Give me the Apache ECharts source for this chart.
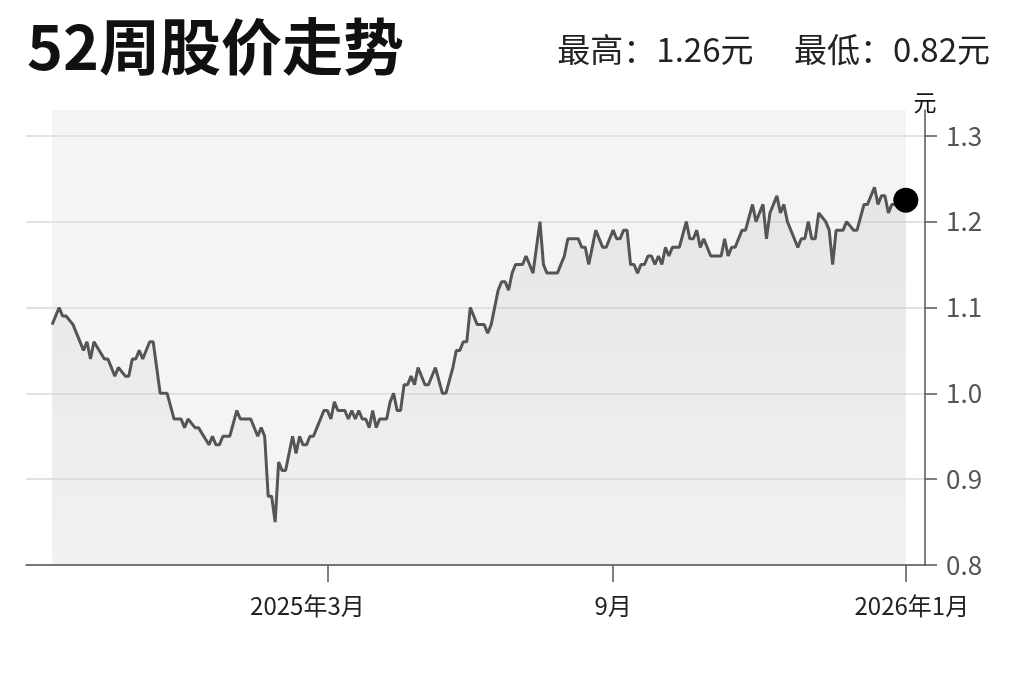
<!DOCTYPE html>
<html>
<head>
<meta charset="utf-8">
<style>
html,body{margin:0;padding:0;background:#fff;}
#chart{width:1023px;height:682px;}
</style>
<script src="https://cdn.jsdelivr.net/npm/echarts@6/dist/echarts.min.js"></script>
</head>
<body>
<div id="chart"></div>
<script>
// trading-day index (0 = first day of the 52-week window) and closing price (元)
const tradingDay = [0,2,3,4,6,9,10,11,12,15,16,18,19,21,22,23,24,25,26,28,29,31,33,35,37,38,39,41,42,
  45,46,47,48,49,51,53,54,57,59,60,61,62,63,64,65,66,67,69,70,71,72,73,74,75,76,78,79,80,81,82,84,85,86,
  87,88,89,90,91,92,93,94,96,97,98,99,100,101,102,103,104,105,107,108,110,112,113,115,116,117,118,119,120,122,124,125,126,
  128,129,130,131,132,133,135,136,137,138,139,140,141,142,145,147,148,151,152,153,154,155,156,158,159,160,161,162,163,164,165,
  166,167,168,169,170,171,172,173,174,175,176,177,178,180,182,183,184,185,186,187,189,192,193,194,195,196,198,199,
  201,202,204,205,206,208,209,210,211,213,214,215,216,217,218,219,220,222,223,224,225,226,227,228,230,231,
  233,234,236,237,238,239,240,241,242,245];
const closePrice = [1.08,1.10,1.09,1.09,1.08,1.05,1.06,1.04,1.06,1.04,1.04,1.02,1.03,1.02,1.02,1.04,1.04,1.05,1.04,1.06,1.06,1.00,1.00,0.97,0.97,0.96,0.97,0.96,0.96,
  0.94,0.95,0.94,0.94,0.95,0.95,0.98,0.97,0.97,0.95,0.96,0.95,0.88,0.88,0.85,0.92,0.91,0.91,0.95,0.93,0.95,0.94,0.94,0.95,0.95,0.96,0.98,0.98,0.97,0.99,0.98,0.98,0.97,0.98,
  0.97,0.98,0.97,0.97,0.96,0.98,0.96,0.97,0.97,0.99,1.00,0.98,0.98,1.01,1.01,1.02,1.01,1.03,1.01,1.01,1.03,1.00,1.00,1.03,1.05,1.05,1.06,1.06,1.10,1.08,1.08,1.07,1.08,
  1.12,1.13,1.13,1.12,1.14,1.15,1.15,1.16,1.15,1.14,1.17,1.20,1.15,1.14,1.14,1.16,1.18,1.18,1.17,1.17,1.15,1.17,1.19,1.17,1.17,1.18,1.19,1.18,1.18,1.19,1.19,
  1.15,1.15,1.14,1.15,1.15,1.16,1.16,1.15,1.16,1.15,1.17,1.16,1.17,1.17,1.20,1.18,1.18,1.19,1.17,1.18,1.16,1.16,1.18,1.16,1.17,1.17,1.19,1.19,
  1.22,1.20,1.22,1.18,1.21,1.23,1.21,1.22,1.20,1.18,1.17,1.18,1.18,1.20,1.18,1.18,1.21,1.20,1.19,1.15,1.19,1.19,1.19,1.20,1.19,1.19,
  1.22,1.22,1.24,1.22,1.23,1.23,1.21,1.22,1.22,1.225];
const tickDays = [79, 161, 245];
const tickLabels = ['2025年3月', '9月', '2026年1月'];
const yTicks = [0.8, 0.9, 1.0, 1.1, 1.2, 1.3];
const titleText = '52周股价走势';
const statText = '最高：1.26元　 最低：0.82元';

const FONT = '"Noto Sans CJK SC", "Noto Sans", sans-serif';
const seriesData = tradingDay.map((d, i) => [d, closePrice[i]]);
const lastPoint = seriesData[seriesData.length - 1];
const yMin = 0.8, yMax = 1.33;

const chart = echarts.init(document.getElementById('chart'), null, {renderer: 'canvas'});
chart.setOption({
  animation: false,
  backgroundColor: '#ffffff',
  title: [
    {text: titleText, left: 22, top: 11,
     textStyle: {fontFamily: FONT, fontSize: 61, fontWeight: 'bold', color: '#111'}},
    {text: statText, right: 28, top: 28,
     textStyle: {fontFamily: FONT, fontSize: 33, fontWeight: 'normal', color: '#222'}}
  ],
  grid: {left: 26, right: 98, top: 110, bottom: 117, containLabel: false},
  xAxis: {
    type: 'value', min: -7.5, max: 250.5, z: 1.5,
    axisLine: {show: true, onZero: false, lineStyle: {color: '#555', width: 1.5}},
    axisTick: {show: true, customValues: tickDays, length: 17, lineStyle: {color: '#555', width: 1.5}},
    axisLabel: {
      show: true, customValues: tickDays, margin: 29,
      fontFamily: FONT, fontSize: 24, color: '#222',
      formatter: function (v) {
        const i = tickDays.indexOf(v);
        const t = i >= 0 ? tickLabels[i] : '';
        if (i === 0) return '{l|' + t + '}';
        if (i === 2) return '{r|' + t + '}';
        return t;
      },
      rich: {
        l: {fontFamily: FONT, fontSize: 24, color: '#222', padding: [0, 40, 0, 0]},
        r: {fontFamily: FONT, fontSize: 24, color: '#222', padding: [0, 0, 0, 12]}
      }
    },
    splitLine: {show: false}
  },
  yAxis: {
    type: 'value', position: 'right', min: yMin, max: yMax, interval: 0.1, z: 1.5,
    name: '元', nameLocation: 'end', nameGap: 8,
    nameTextStyle: {fontFamily: FONT, fontSize: 23, color: '#111', align: 'center', verticalAlign: 'middle'},
    axisLine: {show: true, onZero: false, lineStyle: {color: '#555', width: 1.5}},
    axisTick: {show: true, inside: false, customValues: yTicks, length: 12, lineStyle: {color: '#555', width: 1.5}},
    axisLabel: {show: true, customValues: yTicks, margin: 21, fontFamily: FONT, fontSize: 26, color: '#555',
      formatter: v => v.toFixed(1)},
    splitLine: {show: true, lineStyle: {color: ['#e2e2e2','#e2e2e2','#e2e2e2','#e2e2e2','#e2e2e2','#e2e2e2','rgba(0,0,0,0)'], width: 2}}
  },
  series: [
    {
      type: 'line', data: seriesData, showSymbol: false, symbol: 'none',
      lineStyle: {color: '#555', width: 3},
      areaStyle: {
        color: new echarts.graphic.LinearGradient(0, 0, 0, 1, [
          {offset: 0, color: 'rgba(0,0,0,0.085)'},
          {offset: 1, color: 'rgba(0,0,0,0.015)'}
        ])
      },
      markArea: {
        silent: true,
        itemStyle: {color: '#f4f4f4'},
        data: [[{xAxis: tradingDay[0], yAxis: yMin}, {xAxis: tradingDay[tradingDay.length - 1], yAxis: yMax}]]
      },
      z: 2
    },
    {
      type: 'scatter', data: [lastPoint], symbol: 'circle', symbolSize: 25,
      itemStyle: {color: '#000', opacity: 1}, z: 3
    }
  ]
});
</script>
</body>
</html>
